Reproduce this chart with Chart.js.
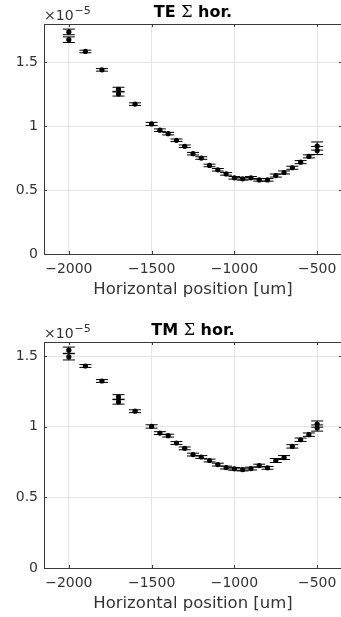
<!DOCTYPE html>
<html>
<head>
<meta charset="utf-8">
<script src="https://cdn.jsdelivr.net/npm/chart.js@4.4.0/dist/chart.umd.min.js"></script>
<style>
  html, body { margin: 0; padding: 0; background: #fff; overflow: hidden; width: 341px; height: 617px; }
  canvas { position: absolute; left: 0; display: block; }
  #c1 { top: 0; }
  #c2 { top: 314px; }
</style>
</head>
<body>
<canvas id="c1" width="343" height="300"></canvas>
<canvas id="c2" width="343" height="300"></canvas>
<script>
// Scan positions (um); repeated positions are repeated measurements
const positions = [-2000, -2000, -1900, -1800, -1700, -1700, -1600, -1500, -1450, -1400, -1350,
  -1300, -1250, -1200, -1150, -1100, -1050, -1000, -950, -900, -850, -800, -750, -700,
  -650, -600, -550, -500, -500];

// Summed horizontal signal, in units of 10^-5
const teSigma = [1.738, 1.677, 1.585, 1.441, 1.289, 1.252, 1.173, 1.018, 0.969, 0.942, 0.890,
  0.843, 0.785, 0.751, 0.693, 0.659, 0.627, 0.596, 0.588, 0.596, 0.580, 0.580, 0.614, 0.638,
  0.675, 0.719, 0.764, 0.845, 0.810];
const teErr = [0.022, 0.022, 0.010, 0.010, 0.016, 0.016, 0.010, 0.012, 0.010, 0.010, 0.010,
  0.010, 0.010, 0.010, 0.010, 0.010, 0.010, 0.010, 0.010, 0.010, 0.010, 0.010, 0.012, 0.012,
  0.012, 0.012, 0.012, 0.032, 0.032];

const tmSigma = [1.542, 1.495, 1.430, 1.324, 1.211, 1.176, 1.110, 1.002, 0.955, 0.937, 0.885,
  0.847, 0.803, 0.786, 0.761, 0.732, 0.711, 0.702, 0.697, 0.704, 0.725, 0.709, 0.761, 0.782,
  0.861, 0.908, 0.944, 1.019, 0.991];
const tmErr = [0.022, 0.022, 0.010, 0.010, 0.016, 0.016, 0.010, 0.012, 0.010, 0.010, 0.010,
  0.010, 0.010, 0.010, 0.010, 0.010, 0.010, 0.010, 0.010, 0.010, 0.010, 0.010, 0.014, 0.014,
  0.012, 0.012, 0.012, 0.022, 0.022];

const xTickValues = [-2000, -1500, -1000, -500];
const yTickValues = [0, 0.5, 1, 1.5];
const yExponent = '\u22125';

const FONT = '"DejaVu Sans", Verdana, sans-serif';
const TEXT = '#333333';
const AXIS = '#3a3a3a';
const GRID = '#e4e4e4';

const fmtX = v => (v < 0 ? '\u2212' + Math.abs(v) : String(v));

// Vertical error bars with caps, placed via the chart's scales
const errorBars = {
  id: 'errorBars',
  beforeDatasetsDraw(chart) {
    const ctx = chart.ctx;
    const ys = chart.scales.y;
    chart.data.datasets.forEach((ds, i) => {
      if (!ds.errors) return;
      const meta = chart.getDatasetMeta(i);
      ctx.save();
      ctx.strokeStyle = '#000';
      ctx.lineWidth = 1;
      meta.data.forEach((el, j) => {
        const v = ds.data[j].y, e = ds.errors[j];
        const x = el.x;
        const yt = ys.getPixelForValue(v + e);
        const yb = ys.getPixelForValue(v - e);
        ctx.beginPath();
        ctx.moveTo(x, yt); ctx.lineTo(x, yb);
        ctx.moveTo(x - 6, yt); ctx.lineTo(x + 6, yt);
        ctx.moveTo(x - 6, yb); ctx.lineTo(x + 6, yb);
        ctx.stroke();
      });
      ctx.restore();
    });
  }
};

// Box outline, inward tick marks, title and exponent label
const frame = {
  id: 'frame',
  afterDraw(chart, args, opts) {
    const ctx = chart.ctx;
    const a = chart.chartArea;
    const xs = chart.scales.x, ys = chart.scales.y;
    ctx.save();
    ctx.strokeStyle = AXIS;
    ctx.lineWidth = 1;
    ctx.beginPath();
    ctx.moveTo(a.left, a.top + 0.5); ctx.lineTo(a.right, a.top + 0.5);
    ctx.moveTo(a.right - 0.5, a.top); ctx.lineTo(a.right - 0.5, a.bottom);
    xs.ticks.forEach(t => {
      const px = Math.round(xs.getPixelForValue(t.value)) + 0.5;
      ctx.moveTo(px, a.bottom); ctx.lineTo(px, a.bottom - 3);
      ctx.moveTo(px, a.top); ctx.lineTo(px, a.top + 3);
    });
    ys.ticks.forEach(t => {
      const py = Math.round(ys.getPixelForValue(t.value)) + 0.5;
      ctx.moveTo(a.left, py); ctx.lineTo(a.left + 3, py);
      ctx.moveTo(a.right, py); ctx.lineTo(a.right - 3, py);
    });
    ctx.stroke();

    // title: "<mode> Σ hor."
    const cx = (a.left + a.right) / 2;
    const ty = a.top - 7;
    const parts = [
      { t: opts.mode + ' ', f: 'bold 16px ' + FONT },
      { t: '\u03A3', f: '16px "DejaVu Serif", serif' },
      { t: ' hor.', f: 'bold 16px ' + FONT }
    ];
    let w = 0;
    parts.forEach(p => { ctx.font = p.f; p.w = ctx.measureText(p.t).width; w += p.w; });
    let x = cx - w / 2;
    ctx.fillStyle = '#000';
    ctx.textBaseline = 'alphabetic';
    ctx.textAlign = 'left';
    parts.forEach(p => { ctx.font = p.f; ctx.fillText(p.t, x, ty); x += p.w; });

    // exponent label
    ctx.fillStyle = TEXT;
    ctx.font = '14px ' + FONT;
    const base = '\u00D710';
    ctx.fillText(base, a.left, a.top - 4);
    const bw = ctx.measureText(base).width;
    ctx.font = '11px ' + FONT;
    ctx.fillText(yExponent, a.left + bw + 1, a.top - 10);
    ctx.restore();
  }
};

function makeChart(id, mode, values, errs, yMax, padTop) {
  const pts = positions.map((p, i) => ({ x: p, y: values[i] }));
  return new Chart(document.getElementById(id), {
    type: 'scatter',
    data: {
      datasets: [{
        data: pts,
        errors: errs,
        pointRadius: 2.6,
        pointBackgroundColor: '#000',
        pointBorderWidth: 0,
        showLine: false
      }]
    },
    options: {
      responsive: false,
      animation: false,
      devicePixelRatio: 1,
      layout: { autoPadding: false, padding: { top: padTop, right: 1, left: 0, bottom: 0 } },
      plugins: {
        legend: { display: false },
        tooltip: { enabled: false },
        frame: { mode: mode }
      },
      scales: {
        x: {
          type: 'linear',
          min: -2150,
          max: -350,
          afterBuildTicks: s => { s.ticks = xTickValues.map(v => ({ value: v })); },
          afterFit: s => { s.height = 46; s.paddingLeft = 0; s.paddingRight = 0; },
          ticks: {
            callback: v => fmtX(v),
            font: { family: FONT, size: 14 },
            color: TEXT,
            padding: 7,
            maxRotation: 0,
            autoSkip: false
          },
          grid: { color: GRID, drawTicks: false, lineWidth: 1 },
          border: { color: AXIS, width: 1 },
          title: {
            display: true,
            text: 'Horizontal position [um]',
            font: { family: FONT, size: 16.5 },
            color: TEXT,
            padding: { top: 0, bottom: 0 }
          }
        },
        y: {
          type: 'linear',
          min: 0,
          max: yMax,
          afterBuildTicks: s => { s.ticks = yTickValues.map(v => ({ value: v })); },
          afterFit: s => { s.width = 44; s.paddingTop = 0; s.paddingBottom = 0; },
          ticks: {
            callback: v => String(v),
            font: { family: FONT, size: 14 },
            color: TEXT,
            padding: 6
          },
          grid: { color: GRID, drawTicks: false, lineWidth: 1 },
          border: { color: AXIS, width: 1 }
        }
      }
    },
    plugins: [errorBars, frame]
  });
}

makeChart('c1', 'TE', teSigma, teErr, 1.8, 24);
makeChart('c2', 'TM', tmSigma, tmErr, 1.6, 28);
</script>
</body>
</html>
